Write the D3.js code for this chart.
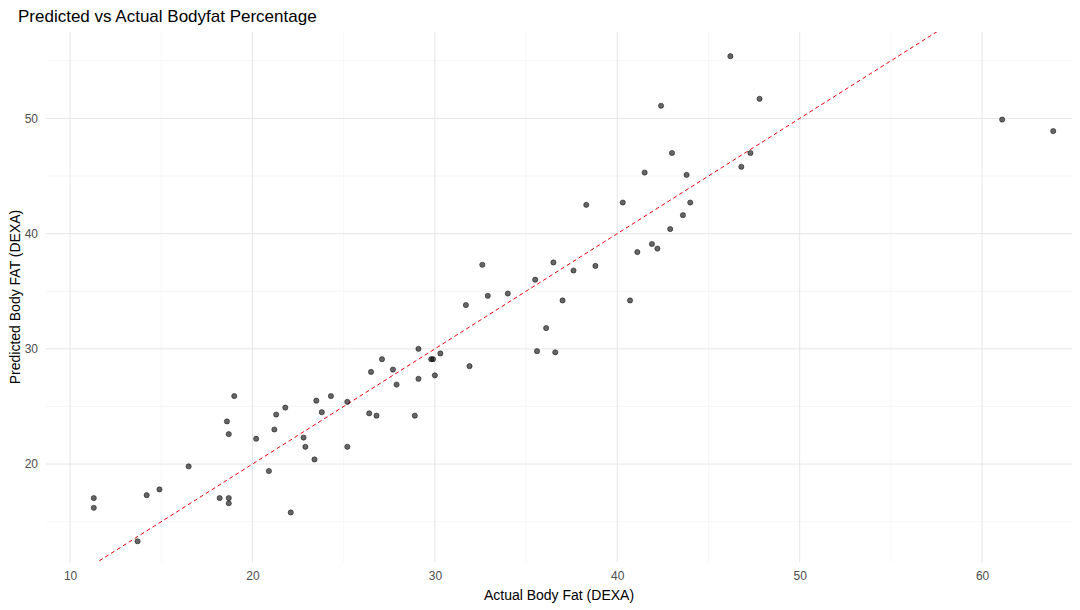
<!DOCTYPE html>
<html><head><meta charset="utf-8">
<script src="https://cdn.jsdelivr.net/npm/d3@7"></script>
<style>body{margin:0;background:#fff;font-family:"Liberation Sans",Arial,sans-serif}</style>
</head><body><svg id="c" width="1080" height="610"></svg>
<script>
const actual=[11.3,11.3,13.7,14.2,14.9,16.5,18.2,18.7,18.7,18.6,18.7,19.0,20.2,20.9,21.2,21.3,21.8,22.1,22.8,22.9,23.4,23.5,23.8,24.3,25.2,25.2,26.4,26.5,26.8,27.1,27.7,27.9,28.9,29.1,29.1,29.8,29.9,30.0,30.3,31.9,31.7,32.6,32.9,34.0,35.5,35.6,36.1,36.5,36.6,37.0,37.6,38.3,38.8,40.3,40.7,41.1,41.5,41.9,42.2,42.4,42.9,43.0,43.6,43.8,44.0,46.2,46.8,47.3,47.8,61.1,63.9];
const predicted=[17.05,16.2,13.3,17.3,17.8,19.8,17.05,17.05,16.6,23.7,22.6,25.9,22.2,19.4,23.0,24.3,24.9,15.8,22.3,21.5,20.4,25.5,24.5,25.9,25.4,21.5,24.4,28.0,24.2,29.1,28.2,26.9,24.2,30.0,27.4,29.1,29.1,27.7,29.6,28.5,33.8,37.3,34.6,34.8,36.0,29.8,31.8,37.5,29.7,34.2,36.8,42.5,37.2,42.7,34.2,38.4,45.3,39.1,38.7,51.1,40.4,47.0,41.6,45.1,42.7,55.4,45.8,47.0,51.7,49.9,48.9];
const xTicks=[10,20,30,40,50,60], yTicks=[20,30,40,50];
const xMinor=[15,25,35,45,55], yMinor=[15,25,35,45,55];
const svg=d3.select("#c");
const L=46,R=1072,T=32,B=562;
const x=d3.scaleLinear().domain([8.68,64.93]).range([L,R]);
const y=d3.scaleLinear().domain([11.5,57.5]).range([B,T]);
const g=svg.append("g");
xMinor.forEach(v=>g.append("line").attr("x1",x(v)).attr("x2",x(v)).attr("y1",T).attr("y2",B).attr("stroke","#f0f0f0").attr("stroke-width",0.6));
yMinor.forEach(v=>{if(y(v)>T&&y(v)<B)g.append("line").attr("y1",y(v)).attr("y2",y(v)).attr("x1",L).attr("x2",R).attr("stroke","#f0f0f0").attr("stroke-width",0.6)});
xTicks.forEach(v=>g.append("line").attr("x1",x(v)).attr("x2",x(v)).attr("y1",T).attr("y2",B).attr("stroke","#e6e6e6").attr("stroke-width",1));
yTicks.forEach(v=>g.append("line").attr("y1",y(v)).attr("y2",y(v)).attr("x1",L).attr("x2",R).attr("stroke","#e6e6e6").attr("stroke-width",1));
const xa=svg.append("g").attr("transform",`translate(0,${B})`).call(d3.axisBottom(x).tickValues(xTicks).tickSize(0).tickPadding(9));
const ya=svg.append("g").attr("transform",`translate(${L},0)`).call(d3.axisLeft(y).tickValues(yTicks).tickSize(0).tickPadding(8));
[xa,ya].forEach(a=>{a.select(".domain").remove();a.selectAll("text").attr("fill","#4d4d4d").attr("font-size",12).attr("font-family","Liberation Sans,Arial")});
svg.append("defs").append("clipPath").attr("id","cp").append("rect").attr("x",L).attr("y",T).attr("width",R-L).attr("height",B-T);
svg.append("line").attr("clip-path","url(#cp)").attr("x1",x(8.68)).attr("y1",y(8.68)).attr("x2",x(60)).attr("y2",y(60)).attr("stroke","#e8000b").attr("stroke-width",1).attr("stroke-dasharray","4,3");
svg.append("g").selectAll("circle").data(actual.map((a,i)=>[a,predicted[i]])).join("circle")
 .attr("cx",d=>x(d[0])).attr("cy",d=>y(d[1])).attr("r",2.6).attr("fill","#000").attr("fill-opacity",0.6).attr("stroke","#000").attr("stroke-opacity",0.8).attr("stroke-width",0.6);
svg.append("text").attr("x",18).attr("y",22).attr("font-size",17).attr("fill","#000").text("Predicted vs Actual Bodyfat Percentage");
svg.append("text").attr("x",(L+R)/2).attr("y",600).attr("text-anchor","middle").attr("font-size",14).text("Actual Body Fat (DEXA)");
svg.append("text").attr("transform",`translate(20,${(T+B)/2}) rotate(-90)`).attr("text-anchor","middle").attr("font-size",14).text("Predicted Body FAT (DEXA)");
</script></body></html>
